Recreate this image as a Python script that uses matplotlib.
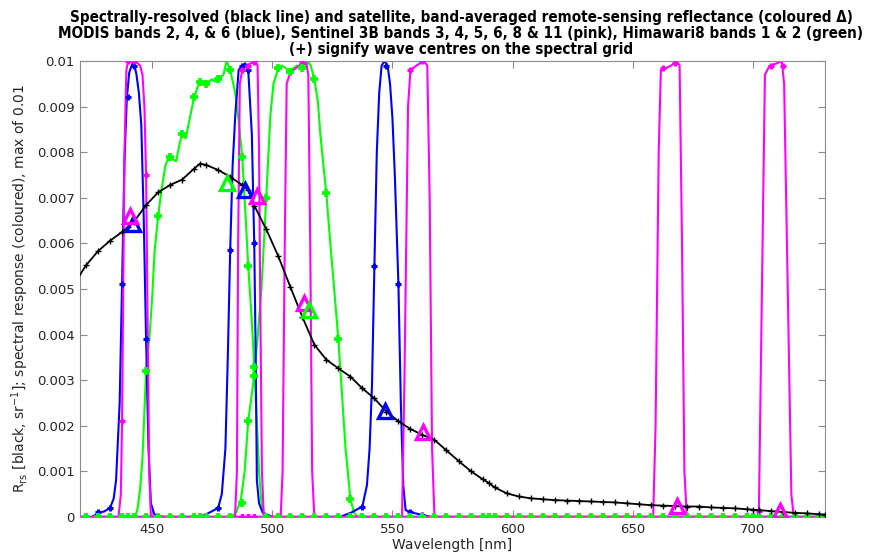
import numpy as np
import matplotlib
matplotlib.use("Agg")
import matplotlib.pyplot as plt

# ---------------- data ----------------
# spectral grid (nm) and spectrally-resolved Rrs (sr^-1)
grid_wl = [417.5, 422.5, 427.5, 432.5, 437.5, 440.0, 442.5, 447.5, 452.5, 457.5, 462.5,
           467.5, 470.0, 472.5, 477.5, 482.5, 487.5, 490.0, 492.5, 497.5, 502.5,
           507.5, 512.5, 517.5, 522.5, 527.5, 532.5, 537.5, 542.5, 547.5, 552.5,
           557.5, 562.5, 567.5, 572.5, 577.5, 582.5, 587.5, 590.0, 592.5, 597.5,
           602.5, 607.5, 612.5, 617.5, 622.5, 627.5, 632.5, 637.5, 642.5, 647.5,
           652.5, 657.5, 662.5, 667.5, 672.5, 677.5, 682.5, 687.5, 692.5, 697.5,
           700.0, 702.5, 707.5, 712.5, 717.5, 722.5, 727.5, 730.0]
rrs = [0.00510, 0.00552, 0.00583, 0.00606, 0.00625, 0.00635, 0.00648, 0.00684, 0.00712, 0.00728, 0.00740,
       0.00764, 0.00775, 0.00772, 0.00761, 0.00746, 0.00728, 0.00717, 0.00683, 0.00631, 0.00572,
       0.00505, 0.00439, 0.00378, 0.00345, 0.00326, 0.00308, 0.00282, 0.00260, 0.00231, 0.00210,
       0.00193, 0.00180, 0.00169, 0.00146, 0.00123, 0.00101, 0.00083, 0.00075, 0.00065, 0.00052,
       0.00045, 0.00041, 0.00039, 0.00037, 0.00036, 0.00035, 0.00034, 0.00033, 0.00032, 0.00030,
       0.00028, 0.00026, 0.00025, 0.00024, 0.00023, 0.00023, 0.00021, 0.00020, 0.00019, 0.00017,
       0.00016, 0.00015, 0.00013, 0.00011, 0.00009, 0.00008, 0.00006, 0.00005]

# spectral response functions (fraction of max), scaled to max of 0.01
# MODIS (blue)
modis443_wl = [415, 425, 428, 430, 432.5, 434, 435, 436.5, 437.5, 438.5, 439.5, 440.5, 441.5, 442.3,
               443.5, 444.5, 445.5, 446.5, 447.5, 448.5, 449.5, 451, 455, 735]
modis443_r = [0, 0, 0.01, 0.012, 0.02, 0.04, 0.08, 0.25, 0.51, 0.78, 0.92, 0.975, 0.99, 1.0,
              0.97, 0.93, 0.86, 0.66, 0.39, 0.15, 0.03, 0.005, 0, 0]
modis488_wl = [415, 470, 474, 477.5, 479, 480.5, 481.5, 482.5, 483.5, 484.6, 486, 487.5, 488.75,
               490, 491.5, 492.5, 493, 493.6, 494.5, 496, 500, 735]
modis488_r = [0, 0, 0.01, 0.02, 0.05, 0.15, 0.35, 0.586, 0.77, 0.88, 0.98, 0.99, 0.995,
              0.98, 0.84, 0.60, 0.40, 0.08, 0.03, 0.01, 0, 0]
modis547_wl = [415, 528, 533, 537.5, 539.4, 540.5, 541.5, 542.5, 543.5, 544.5, 545.5, 546.7, 548,
               549, 550, 551, 552.5, 553.5, 554.5, 555.5, 558, 562, 566, 735]
modis547_r = [0, 0, 0.01, 0.023, 0.07, 0.15, 0.29, 0.55, 0.80, 0.93, 0.99, 1.0, 0.99,
              0.95, 0.875, 0.75, 0.51, 0.25, 0.07, 0.015, 0.01, 0.005, 0, 0]
# Sentinel 3B OLCI (pink)
olci442_wl = [415, 436, 437, 437.5, 438.5, 439.3, 440, 443, 445, 446, 446.8, 447.5, 448.2, 448.8, 449.5, 735]
olci442_r = [0, 0, 0.05, 0.21, 0.80, 0.98, 1.0, 1.0, 0.99, 0.97, 0.90, 0.75, 0.40, 0.10, 0, 0]
olci490_wl = [415, 484.5, 485.3, 485.8, 486.5, 487.5, 489.4, 492.9, 493.9, 494.5, 495, 495.7, 496.5, 735]
olci490_r = [0, 0, 0.10, 0.60, 0.95, 0.98, 0.99, 1.0, 0.99, 0.80, 0.48, 0.10, 0, 0]
olci510_wl = [415, 503.5, 504.3, 505.2, 506, 507.5, 510, 512.5, 514, 515, 515.8, 516.6, 517.5, 735]
olci510_r = [0, 0, 0.10, 0.60, 0.95, 0.975, 0.985, 0.995, 1.0, 0.97, 0.60, 0.10, 0, 0]
olci560_wl = [415, 554, 555, 556.5, 557.5, 560, 563, 564.5, 565.5, 566.5, 567.5, 735]
olci560_r = [0, 0, 0.30, 0.90, 0.98, 0.99, 1.0, 0.99, 0.70, 0.15, 0, 0]
olci665_wl = [415, 658.5, 659.5, 660.8, 661.7, 664, 666, 668.3, 669.5, 670.5, 671.5, 672.5, 735]
olci665_r = [0, 0, 0.20, 0.80, 0.98, 0.985, 0.99, 1.0, 0.99, 0.60, 0.10, 0, 0]
olci709_wl = [415, 702, 702.5, 703.5, 705, 707, 710, 712, 713, 714.5, 716, 717, 735]
olci709_r = [0, 0, 0.014, 0.40, 0.97, 0.99, 0.995, 1.0, 0.95, 0.50, 0.05, 0, 0]
# Himawari-8 (green)
him1_wl = [415, 443, 444, 445, 446, 447.5, 449, 450, 451, 452.5, 454, 455.5, 457, 458.5, 460,
           461.5, 462.5, 464, 465.5, 467.5, 469.7, 471, 472.5, 474.9, 476, 477.2, 478.5, 479.7,
           481, 482.5, 484.6, 486, 487.5, 489, 490, 491.5, 492.5, 493.5, 494.5, 495.5, 496.5, 497.5, 735]
him1_r = [0, 0, 0.02, 0.06, 0.13, 0.32, 0.40, 0.48, 0.58, 0.66, 0.72, 0.77, 0.79, 0.785, 0.78,
          0.82, 0.84, 0.83, 0.87, 0.92, 0.955, 0.955, 0.95, 0.96, 0.955, 0.96, 0.965, 0.97,
          1.0, 0.98, 0.93, 0.87, 0.79, 0.65, 0.55, 0.43, 0.33, 0.22, 0.10, 0.03, 0.005, 0, 0]
him2_wl = [415, 483, 485, 487, 488.5, 490, 491.5, 492.5, 494, 495.5, 497.5, 499.2, 500.5, 502.5,
           504, 505.5, 507.5, 509, 510.3, 512.5, 514, 515.1, 516, 517.5, 519, 520, 521.5, 522.5,
           524, 525.6, 527.5, 529, 530.5, 532.5, 534, 535.5, 735]
him2_r = [0, 0, 0.01, 0.04, 0.10, 0.21, 0.27, 0.31, 0.40, 0.50, 0.70, 0.88, 0.95, 0.984,
          0.99, 0.985, 0.975, 0.985, 0.99, 0.984, 0.99, 0.997, 0.99, 0.96, 0.91, 0.84, 0.76, 0.71,
          0.61, 0.51, 0.39, 0.27, 0.15, 0.04, 0.01, 0, 0]

# band responses sampled at grid points (non-zero ones only; others are 0)
modis443_mk_wl = [427.5, 432.5, 437.5, 440.0, 442.5, 447.5]
modis443_mk = [0.01, 0.02, 0.51, 0.92, 0.99, 0.39]
modis488_mk_wl = [477.5, 482.5, 487.5, 490.0, 492.5]
modis488_mk = [0.02, 0.586, 0.99, 0.98, 0.60]
modis547_mk_wl = [537.5, 542.5, 547.5, 552.5, 557.5, 562.5]
modis547_mk = [0.023, 0.55, 0.99, 0.51, 0.01, 0.005]
olci442_mk_wl = [437.5, 440.0, 442.5, 447.5]
olci442_mk = [0.21, 1.0, 1.0, 0.75]
olci490_mk_wl = [487.5, 490.0, 492.5]
olci490_mk = [0.98, 0.99, 0.997]
olci510_mk_wl = [507.5, 512.5]
olci510_mk = [0.975, 0.995]
olci560_mk_wl = [557.5, 562.5]
olci560_mk = [0.98, 1.0]
olci665_mk_wl = [662.5, 667.5]
olci665_mk = [0.985, 0.995]
olci709_mk_wl = [702.5, 707.5, 712.5]
olci709_mk = [0.014, 0.99, 0.99]
him1_mk_wl = [447.5, 452.5, 457.5, 462.5, 467.5, 470.0, 472.5, 477.5, 482.5, 487.5, 490.0, 492.5]
him1_mk = [0.32, 0.66, 0.79, 0.84, 0.92, 0.955, 0.95, 0.96, 0.98, 0.79, 0.55, 0.33]
him2_mk_wl = [487.5, 490.0, 492.5, 497.5, 502.5, 507.5, 512.5, 517.5, 522.5, 527.5, 532.5]
him2_mk = [0.03, 0.21, 0.31, 0.70, 0.984, 0.975, 0.984, 0.96, 0.71, 0.39, 0.04]

# band-averaged Rrs (triangles): centre wavelength, value
modis_tri_wl = [442.1, 488.6, 547.1]
modis_tri = [0.00643, 0.00717, 0.00233]
olci_tri_wl = [440.7, 493.5, 513.0, 562.8, 668.3, 711.4]
olci_tri = [0.00659, 0.00704, 0.00470, 0.00187, 0.00024, 0.00014]
him_tri_wl = [481.0, 515.1]
him_tri = [0.00732, 0.00454]

SCALE = 0.01
BLUE = '#0000ff'
PINK = '#ff00ff'
GREEN = '#00ff00'

# ---------------- plot ----------------
fig = plt.figure(figsize=(8.76, 5.59), dpi=100)
ax = fig.add_axes([80 / 876, 1 - 517 / 559, 745 / 876, 456 / 559])

grid = np.array(grid_wl)


def sampled(mk_wl, mk):
    vals = np.zeros(len(grid))
    for w, v in zip(mk_wl, mk):
        vals[np.argmin(np.abs(grid - w))] = v
    return vals * SCALE


green_bands = [(him1_wl, him1_r, him1_mk_wl, him1_mk), (him2_wl, him2_r, him2_mk_wl, him2_mk)]
blue_bands = [(modis443_wl, modis443_r, modis443_mk_wl, modis443_mk),
              (modis488_wl, modis488_r, modis488_mk_wl, modis488_mk),
              (modis547_wl, modis547_r, modis547_mk_wl, modis547_mk)]
pink_bands = [(olci442_wl, olci442_r, olci442_mk_wl, olci442_mk),
              (olci490_wl, olci490_r, olci490_mk_wl, olci490_mk),
              (olci510_wl, olci510_r, olci510_mk_wl, olci510_mk),
              (olci560_wl, olci560_r, olci560_mk_wl, olci560_mk),
              (olci665_wl, olci665_r, olci665_mk_wl, olci665_mk),
              (olci709_wl, olci709_r, olci709_mk_wl, olci709_mk)]

for bands, col in [(green_bands, GREEN), (blue_bands, BLUE), (pink_bands, PINK)]:
    for wl, r, mwl, m in bands:
        ax.plot(wl, np.array(r) * SCALE, color=col, lw=1.5, zorder=2)
for bands, col in [(blue_bands, BLUE), (pink_bands, PINK)]:
    for wl, r, mwl, m in bands:
        ax.plot(grid, sampled(mwl, m), ls='none', marker='+', ms=5, mew=2.2, color=col, zorder=3)
for wl, r, mwl, m in green_bands:
    ax.plot(grid, sampled(mwl, m), ls='none', marker='+', ms=6, mew=2.6, color=GREEN, zorder=4)

ax.plot(grid_wl, rrs, color='k', lw=1.3, marker='+', ms=5, mew=1.0, zorder=5)

ax.plot(modis_tri_wl, modis_tri, ls='none', marker='^', ms=10, mew=2.4, mfc='none', mec=BLUE, zorder=6)
ax.plot(olci_tri_wl, olci_tri, ls='none', marker='^', ms=10, mew=2.4, mfc='none', mec=PINK, zorder=6)
ax.plot(him_tri_wl, him_tri, ls='none', marker='^', ms=10, mew=2.4, mfc='none', mec=GREEN, zorder=6)

ax.set_xlim(420, 730)
ax.set_ylim(0, 0.01)
ax.set_xticks([450, 500, 550, 600, 650, 700])
yt = [0, 0.001, 0.002, 0.003, 0.004, 0.005, 0.006, 0.007, 0.008, 0.009, 0.01]
ax.set_yticks(yt)
ax.set_yticklabels(['0', '0.001', '0.002', '0.003', '0.004', '0.005', '0.006', '0.007',
                    '0.008', '0.009', '0.01'])
ax.tick_params(direction='in', length=5, width=0.8, color='0.55', labelcolor='#262626',
               labelsize=9.5, top=True, right=True, pad=4)
for s in ax.spines.values():
    s.set_color('0.55')
    s.set_linewidth(0.8)

ax.set_xlabel('Wavelength [nm]', fontsize=10, color='#262626', labelpad=2)
ax.set_ylabel(r'R$_{\rm rs}$ [black, sr$^{-1}$]; spectral response (coloured), max of 0.01',
              fontsize=10, color='#262626', labelpad=4)

title = ('Spectrally-resolved (black line) and satellite, band-averaged remote-sensing reflectance (coloured \u0394)\n'
         'MODIS bands 2, 4, & 6 (blue), Sentinel 3B bands 3, 4, 5, 6, 8 & 11 (pink), Himawari8 bands 1 & 2 (green)\n'
         '(+) signify wave centres on the spectral grid')
fig.text(461 / 876, 1 - 57 / 559, title, ha='center', va='bottom', fontsize=10.9,
         fontweight='bold', fontstretch='condensed', color='k', linespacing=1.08)

fig.savefig('out.png', dpi=100)
